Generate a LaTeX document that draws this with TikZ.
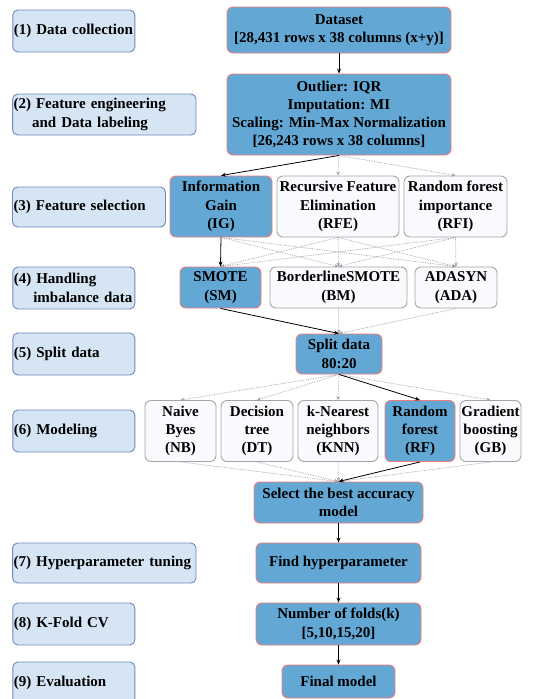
\documentclass[tikz,border=0pt]{standalone}
\usepackage{fontspec}
\setmainfont{Liberation Serif}
\usetikzlibrary{arrows.meta}
\definecolor{mainfill}{HTML}{63A8D5}
\definecolor{mainline}{HTML}{F07C7C}
\definecolor{wfill}{HTML}{F8FAFD}
\definecolor{wline}{HTML}{A6A6A6}
\definecolor{lfill}{HTML}{D6E5F4}
\definecolor{lline}{HTML}{7089BD}
\tikzset{
  base/.style={rounded corners=6pt, line width=0.9pt, inner sep=0pt, align=center,
    font=\bfseries\fontsize{15}{18.3}\selectfont},
  mainbox/.style={base, fill=mainfill, draw=mainline},
  wbox/.style={base, fill=wfill, draw=wline},
  lbl/.style={base, fill=lfill, draw=lline, align=left, inner xsep=1pt, rounded corners=5pt},
  solidarr/.style={draw=black, line width=0.8pt, -{Stealth[length=5pt,width=4pt]}},
  dotarr/.style={draw=gray!75, line width=0.7pt, densely dotted, -{Stealth[length=4pt,width=3.5pt]}},
}
\begin{document}
\begin{tikzpicture}[x=1pt,y=-1pt]
\useasboundingbox[fill=white] (0,0) rectangle (536,699);
% left labels
\node[lbl, minimum width=122pt, minimum height=42pt, text width=120pt] (l1) at (73.8,31) {(1) Data collection};
\node[lbl, minimum width=183.4pt, minimum height=41pt, text width=181.4pt] (l2) at (104.3,114.5) {(2) Feature engineering\\\hspace*{18.5pt}and Data labeling};
\node[lbl, minimum width=153pt, minimum height=40pt, text width=151pt] (l3) at (89,207) {(3) Feature selection};
\node[lbl, minimum width=122pt, minimum height=42pt, text width=120pt] (l4) at (73.8,288) {(4) Handling\\\hspace*{19.5pt}imbalance data};
\node[lbl, minimum width=122pt, minimum height=42pt, text width=120pt] (l5) at (73.8,354) {(5) Split data};
\node[lbl, minimum width=122pt, minimum height=42pt, text width=120pt] (l6) at (73.8,431) {(6) Modeling};
\node[lbl, minimum width=183.4pt, minimum height=40pt, text width=181.4pt] (l7) at (104.3,563) {(7) Hyperparameter tuning};
\node[lbl, minimum width=122pt, minimum height=42pt, text width=120pt] (l8) at (73.8,624) {(8) K-Fold CV};
\node[lbl, minimum width=122pt, minimum height=42pt, text width=120pt] (l9) at (73.8,683) {(9) Evaluation};
% main column
\node[mainbox, minimum width=224pt, minimum height=46pt] (ds) at (339,30) {Dataset\\{}[28,431 rows x 38 columns (x+y)]};
\node[mainbox, minimum width=224pt, minimum height=81pt] (fe) at (339,114.5) {Outlier: IQR\\Imputation: MI\\Scaling: Min-Max Normalization\\{}[26,243 rows x 38 columns]};
\node[mainbox, minimum width=102pt, minimum height=61pt] (ig) at (221,206.5) {Information\\Gain\\(IG)};
\node[wbox, minimum width=122pt, minimum height=61pt] (rfe) at (338,206.5) {Recursive Feature\\Elimination\\(RFE)};
\node[wbox, minimum width=103pt, minimum height=61pt] (rfi) at (455.5,206.5) {Random forest\\importance\\(RFI)};
\node[mainbox, minimum width=81pt, minimum height=41pt] (sm) at (220.5,287.5) {SMOTE\\(SM)};
\node[wbox, minimum width=137pt, minimum height=41pt] (bm) at (338.5,287.5) {BorderlineSMOTE\\(BM)};
\node[wbox, minimum width=82pt, minimum height=41pt] (ada) at (456,287.5) {ADASYN\\(ADA)};
\node[mainbox, minimum width=86pt, minimum height=40pt] (split) at (339,354) {Split data\\80:20};
\node[wbox, minimum width=71pt, minimum height=61pt] (nb) at (180.5,431) {Naive\\Byes\\(NB)};
\node[wbox, minimum width=72pt, minimum height=61pt] (dt) at (257,431) {Decision\\tree\\(DT)};
\node[wbox, minimum width=80pt, minimum height=61pt] (knn) at (338,431) {k-Nearest\\neighbors\\(KNN)};
\node[mainbox, minimum width=70pt, minimum height=61pt] (rf) at (420,431) {Random\\forest\\(RF)};
\node[wbox, minimum width=61pt, minimum height=61pt] (gb) at (490.5,431) {Gradient\\boosting\\(GB)};
\node[mainbox, minimum width=169pt, minimum height=41pt] (sel) at (338.5,502.5) {Select the best accuracy\\model};
\node[mainbox, minimum width=165pt, minimum height=40pt] (hyp) at (338.5,563) {Find hyperparameter};
\node[mainbox, minimum width=165pt, minimum height=42pt] (fold) at (338.5,624) {Number of folds(k)\\{}[5,10,15,20]};
\node[mainbox, minimum width=113pt, minimum height=33pt] (fin) at (338.5,681.5) {Final model};
% connectors
\draw[solidarr] (ds.south) -- (fe.north);
\draw[dotarr] (fe.south) -- (rfe.north);
\draw[dotarr] (fe.south) -- (rfi.north);
\draw[solidarr] (fe.south) -- (ig.north);
\foreach \a/\b in {ig/bm, ig/ada, rfe/sm, rfe/bm, rfe/ada, rfi/sm, rfi/bm, rfi/ada}
  \draw[dotarr] (\a.south) -- (\b.north);
\draw[solidarr] (ig.south) -- (sm.north);
\draw[dotarr] (bm.south) -- (split.north);
\draw[dotarr] (ada.south) -- (split.north);
\draw[solidarr] (sm.south) -- (split.north);
\foreach \m in {nb, dt, knn, gb}{
  \draw[dotarr] (split.south) -- (\m.north);
  \draw[dotarr] (\m.south) -- (sel.north);
}
\draw[solidarr] (split.south) -- (rf.north);
\draw[solidarr] (rf.south) -- (sel.north);
\draw[solidarr] (sel.south) -- (hyp.north);
\draw[solidarr] (hyp.south) -- (fold.north);
\draw[solidarr] (fold.south) -- (fin.north);
\end{tikzpicture}
\end{document}
